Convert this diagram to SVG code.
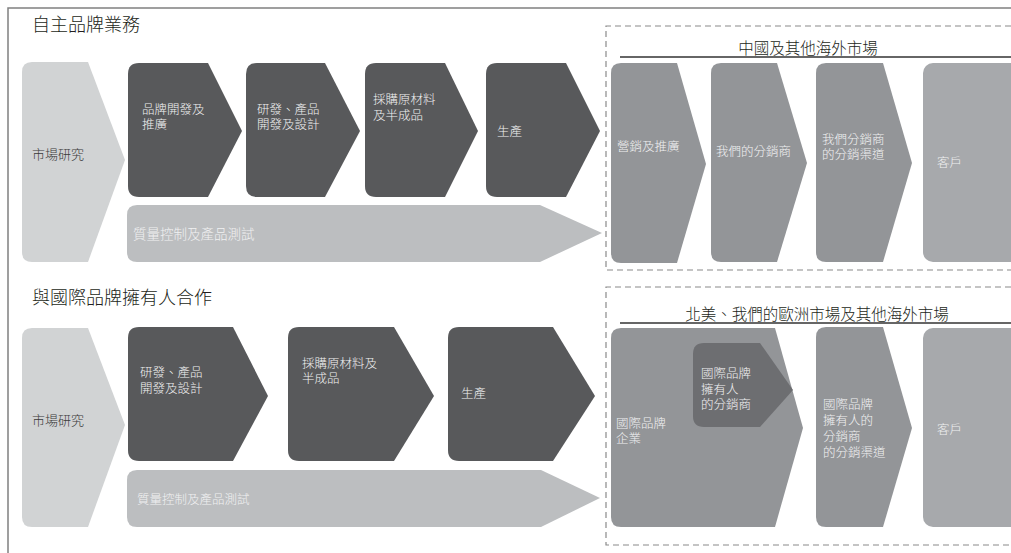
<svg xmlns="http://www.w3.org/2000/svg" width="1011" height="553" viewBox="0 0 1011 553">
<style>
text{font-family:"Noto Sans CJK TC","Noto Sans CJK SC",sans-serif;font-weight:300;}
.title{font-size:18px;fill:#231f20;}
.hdr{font-size:15.5px;fill:#231f20;}
.lt{font-size:13px;fill:#3a3a3a;}
.wt{font-size:12.5px;fill:#f1f1f2;}
.light{fill:#d1d3d4;}
.dark{fill:#58595b;}
.qc{fill:#bcbec0;}
.gray{fill:#939598;}
.cust{fill:#a7a9ac;}
.inner{fill:#6d6e71;}
.dash{fill:none;stroke:#8a8a8a;stroke-width:1.2;stroke-dasharray:6,4;}
.ul{stroke:#333;stroke-width:1.4;}
.frame{stroke:#808080;stroke-width:1.5;fill:none;}
</style>
<g id="frame">
<path class="frame" d="M8,553 L8,8 L1011,8"/>
</g>
<g id="title-own"><text class="title" x="32" y="31">自主品牌業務</text></g>
<g id="title-intl"><text class="title" x="32" y="304">與國際品牌擁有人合作</text></g>

<g id="connectors"></g>

<!-- Top row -->
<g id="t-market">
<path class="light" d="M32,62 L88,62 L125,160 L88,262 L32,262 Q22,262 22,252 L22,72 Q22,62 32,62 Z"/>
<text class="lt" x="32" y="159">市場研究</text>
</g>
<g id="t-brand">
<path class="dark" d="M139,63 L208,63 L242,131 L208,197 L139,197 Q128,197 128,186 L128,74 Q128,63 139,63 Z"/>
<text class="wt" x="142" y="114">品牌開發及<tspan x="142" dy="15">推廣</tspan></text>
</g>
<g id="t-rnd">
<path class="dark" d="M257,63 L325,63 L360,131 L325,197 L257,197 Q246,197 246,186 L246,74 Q246,63 257,63 Z"/>
<text class="wt" x="257" y="114">研發、產品<tspan x="257" dy="15">開發及設計</tspan></text>
</g>
<g id="t-proc">
<path class="dark" d="M376,63 L445,63 L478,131 L445,197 L376,197 Q365,197 365,186 L365,74 Q365,63 376,63 Z"/>
<text class="wt" x="373" y="104">採購原材料<tspan x="373" dy="16">及半成品</tspan></text>
</g>
<g id="t-prod">
<path class="dark" d="M497,63 L566,63 L600,131 L566,197 L497,197 Q486,197 486,186 L486,74 Q486,63 497,63 Z"/>
<text class="wt" x="497" y="136">生產</text>
</g>
<g id="t-qc">
<path class="qc" d="M137,205 L540,205 L602,233 L540,262 L137,262 Q127,262 127,252 L127,215 Q127,205 137,205 Z"/>
<text class="wt" x="133" y="239" style="font-size:13.5px">質量控制及產品測試</text>
</g>
<g id="t-market-box">
<path class="dash" d="M1011,26 L606,26 L606,270 L1011,270"/>
<text class="hdr" x="808" y="54" text-anchor="middle">中國及其他海外市場</text>
<line class="ul" x1="620" y1="57" x2="1011" y2="57"/>
</g>
<g id="t-marketing">
<path class="gray" d="M621,63 L677,63 L706,164 L677,263 L621,263 Q611,263 611,253 L611,73 Q611,63 621,63 Z"/>
<text class="wt" x="617" y="151">營銷及推廣</text>
</g>
<g id="t-distrib">
<path class="gray" d="M721,63 L777,63 L807,163 L777,262 L721,262 Q711,262 711,252 L711,73 Q711,63 721,63 Z"/>
<text class="wt" x="716" y="156">我們的分銷商</text>
</g>
<g id="t-channel">
<path class="gray" d="M826,63 L883,63 L912,163 L883,262 L826,262 Q816,262 816,252 L816,73 Q816,63 826,63 Z"/>
<text class="wt" x="822" y="144">我們分銷商<tspan x="822" dy="15">的分銷渠道</tspan></text>
</g>
<g id="t-customer">
<rect class="cust" x="923" y="63" width="110" height="199" rx="10"/>
<text class="wt" x="937" y="167">客戶</text>
</g>

<!-- Bottom row -->
<g id="b-market">
<path class="light" d="M32,328 L88,328 L125,425 L88,527 L32,527 Q22,527 22,517 L22,338 Q22,328 32,328 Z"/>
<text class="lt" x="32" y="425">市場研究</text>
</g>
<g id="b-rnd">
<path class="dark" d="M139,327 L233,327 L268,396 L233,461 L139,461 Q128,461 128,450 L128,338 Q128,327 139,327 Z"/>
<text class="wt" x="140" y="377">研發、產品<tspan x="140" dy="16">開發及設計</tspan></text>
</g>
<g id="b-proc">
<path class="dark" d="M299,327 L394,327 L434,396 L394,461 L299,461 Q288,461 288,450 L288,338 Q288,327 299,327 Z"/>
<text class="wt" x="302" y="368">採購原材料及<tspan x="302" dy="15">半成品</tspan></text>
</g>
<g id="b-prod">
<path class="dark" d="M459,327 L553,327 L595,396 L553,461 L459,461 Q448,461 448,450 L448,338 Q448,327 459,327 Z"/>
<text class="wt" x="461" y="398">生產</text>
</g>
<g id="b-qc">
<path class="qc" d="M137,470 L541,470 L600,498 L541,527 L137,527 Q127,527 127,517 L127,480 Q127,470 137,470 Z"/>
<text class="wt" x="137" y="504">質量控制及產品測試</text>
</g>
<g id="b-market-box">
<path class="dash" d="M1011,287 L606,287 L606,545 L1011,545"/>
<text class="hdr" x="817" y="320" text-anchor="middle">北美、我們的歐洲市場及其他海外市場</text>
<line class="ul" x1="620" y1="323" x2="1011" y2="323"/>
</g>
<g id="b-brandco">
<path class="gray" d="M621,328 L775,328 L803,428 L775,527 L621,527 Q611,527 611,517 L611,338 Q611,328 621,328 Z"/>
<text class="wt" x="616" y="428">國際品牌<tspan x="616" dy="15">企業</tspan></text>
</g>
<g id="b-owner-distrib">
<path class="inner" d="M704,343 L760,343 L793,390 L760,427 L704,427 Q693,427 693,416 L693,354 Q693,343 704,343 Z"/>
<text class="wt" x="701" y="378">國際品牌<tspan x="701" dy="15.5">擁有人</tspan><tspan x="701" dy="15.5">的分銷商</tspan></text>
</g>
<g id="b-channel">
<path class="gray" d="M826,327 L883,327 L912,428 L883,527 L826,527 Q816,527 816,517 L816,337 Q816,327 826,327 Z"/>
<text class="wt" x="823" y="409">國際品牌<tspan x="823" dy="16">擁有人的</tspan><tspan x="823" dy="16">分銷商</tspan><tspan x="823" dy="16">的分銷渠道</tspan></text>
</g>
<g id="b-customer">
<rect class="cust" x="923" y="328" width="110" height="199" rx="10"/>
<text class="wt" x="937" y="434">客戶</text>
</g>
</svg>
